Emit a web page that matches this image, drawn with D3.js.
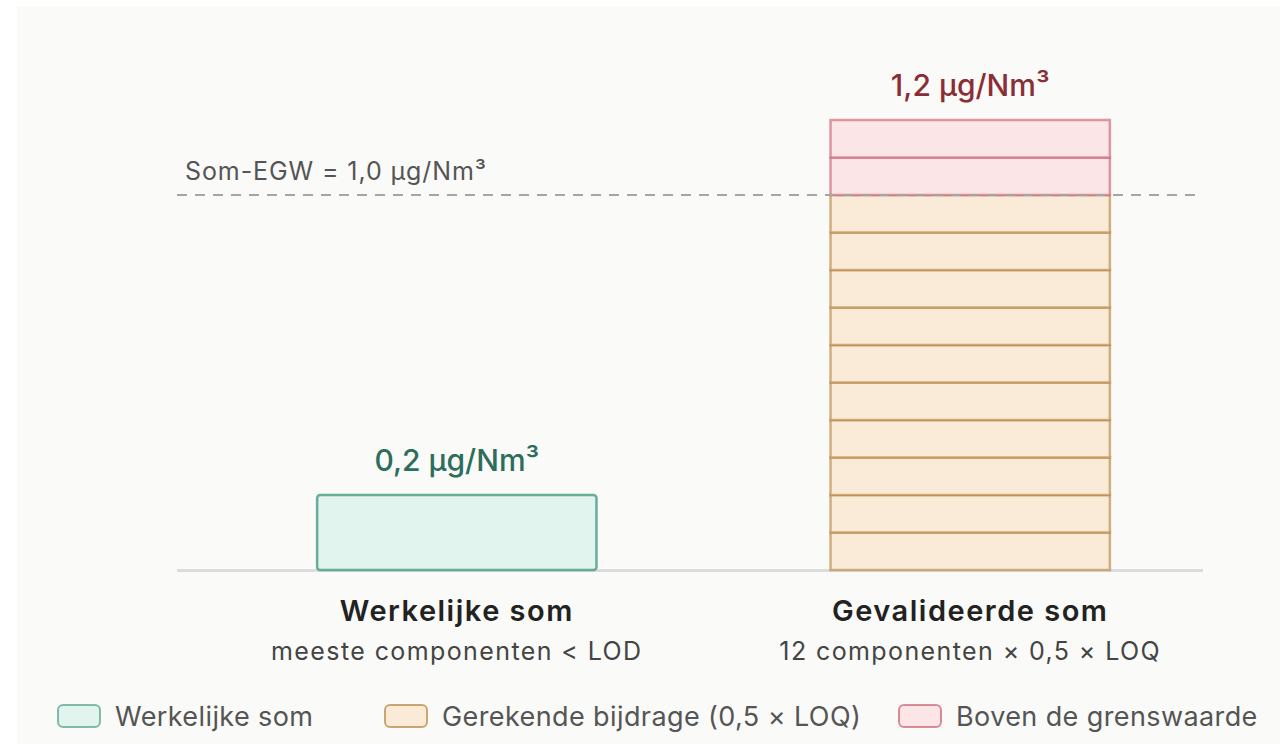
<!DOCTYPE html>
<html>
<head>
<meta charset="utf-8">
<script src="https://cdn.jsdelivr.net/npm/d3@7"></script>
<style>
  html, body { margin: 0; padding: 0; background: #ffffff; }
  svg { display: block; }
  text { font-family: Inter, "Noto Sans", sans-serif; }
</style>
</head>
<body>
<svg id="chart" width="1286" height="744"></svg>
<script>
// ---- data ----
const categories = ["Werkelijke som", "Gevalideerde som"];
const subtitles = ["meeste componenten < LOD", "12 componenten × 0,5 × LOQ"];
const actualValues = [0.2];
const validatedSegments = [0.1, 0.1, 0.1, 0.1, 0.1, 0.1, 0.1, 0.1, 0.1, 0.1, 0.1, 0.1];
const segmentKinds = ["calc", "calc", "calc", "calc", "calc", "calc", "calc", "calc", "calc", "calc", "over", "over"];
const limitValue = 1.0;
const limitLabel = "Som-EGW = 1,0 µg/Nm³";
const valueLabels = ["0,2 µg/Nm³", "1,2 µg/Nm³"];
const legendKeys = ["actual", "calc", "over"];
const legendLabels = ["Werkelijke som", "Gerekende bijdrage (0,5 × LOQ)", "Boven de grenswaarde"];

// ---- styles ----
const fills = { actual: "#e2f4ee", calc: "#faebd8", over: "#fbe5e7" };
const strokes = { actual: "#4fa189", calc: "#b5843f", over: "#c9606d" };
const labelColors = ["#2c6e5b", "#8a2e36"];

const svg = d3.select("#chart");
const W = 1286, H = 744;

// panel background
svg.append("rect").attr("x", 17).attr("y", 6).attr("width", 1263).attr("height", H)
  .attr("fill", "#fafaf8");

const x = d3.scaleBand().domain(categories).range([177, 1250])
  .paddingInner(0.452).paddingOuter(0.271);
const y = d3.scaleLinear().domain([0, 1.2]).range([570, 120]);

const baseX0 = 177, baseX1 = 1203;

// baseline
svg.append("line").attr("x1", baseX0).attr("x2", baseX1)
  .attr("y1", y(0) + 0.5).attr("y2", y(0) + 0.5)
  .attr("stroke", "#dcdcdc").attr("stroke-width", 3);

// actual bar
svg.append("g").selectAll("rect").data(actualValues).join("rect")
  .attr("x", x(categories[0]) + 1)
  .attr("width", x.bandwidth() - 2)
  .attr("y", d => y(d))
  .attr("height", d => y(0) - y(d))
  .attr("rx", 3)
  .attr("fill", fills.actual)
  .attr("stroke", strokes.actual).attr("stroke-opacity", 0.85).attr("stroke-width", 2.5);

// stacked validated bar
let cum = 0;
const stacked = validatedSegments.map((v, i) => {
  const s = { y0: cum, y1: cum + v, kind: segmentKinds[i] };
  cum += v;
  return s;
});
svg.append("g").selectAll("rect").data(stacked).join("rect")
  .attr("x", x(categories[1]) + 1)
  .attr("width", x.bandwidth() - 2)
  .attr("y", d => y(d.y1))
  .attr("height", d => y(d.y0) - y(d.y1))
  .attr("fill", d => fills[d.kind])
  .attr("stroke", d => strokes[d.kind])
  .attr("stroke-opacity", 0.62)
  .attr("stroke-width", 2.5);

// limit line
svg.append("line").attr("x1", baseX0).attr("x2", baseX1)
  .attr("y1", y(limitValue)).attr("y2", y(limitValue))
  .attr("stroke", "#a5a5a1").attr("stroke-width", 2.2)
  .attr("stroke-dasharray", "10,8");
svg.append("text").attr("x", 185).attr("y", y(limitValue) - 15)
  .attr("font-size", 25).attr("fill", "#555").attr("letter-spacing", 0.9)
  .text(limitLabel);

// value labels
const totals = [d3.sum(actualValues), d3.sum(validatedSegments)];
svg.append("g").selectAll("text").data(categories).join("text")
  .attr("x", d => x(d) + x.bandwidth() / 2)
  .attr("y", (d, i) => y(totals[i]) - 24)
  .attr("text-anchor", "middle")
  .attr("font-size", 30).attr("font-weight", 500)
  .attr("fill", (d, i) => labelColors[i])
  .text((d, i) => valueLabels[i]);

// category labels
svg.append("g").selectAll("text").data(categories).join("text")
  .attr("x", d => x(d) + x.bandwidth() / 2)
  .attr("y", 621)
  .attr("text-anchor", "middle")
  .attr("font-size", 29).attr("font-weight", 600).attr("fill", "#222")
  .attr("letter-spacing", 1.5)
  .text(d => d);
svg.append("g").selectAll("text").data(categories).join("text")
  .attr("x", d => x(d) + x.bandwidth() / 2)
  .attr("y", 660)
  .attr("text-anchor", "middle")
  .attr("font-size", 25).attr("fill", "#444")
  .attr("letter-spacing", 1.4)
  .text((d, i) => subtitles[i]);

// legend
const legendX = [58, 385, 899];
const lg = svg.append("g").selectAll("g").data(legendKeys).join("g")
  .attr("transform", (d, i) => `translate(${legendX[i]},705)`);
lg.append("rect").attr("width", 42).attr("height", 22).attr("rx", 5)
  .attr("fill", d => fills[d]).attr("stroke", d => strokes[d])
  .attr("stroke-opacity", 0.7).attr("stroke-width", 2);
lg.append("text").attr("x", 57).attr("y", 21)
  .attr("font-size", 27).attr("fill", "#555").attr("letter-spacing", 0.4)
  .text((d, i) => legendLabels[i]);
</script>
</body>
</html>
